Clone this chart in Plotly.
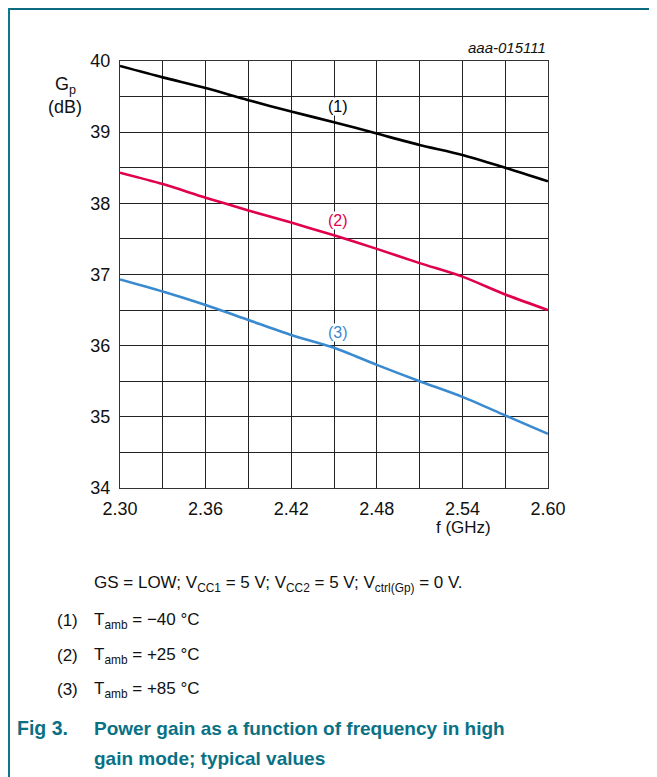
import plotly.graph_objects as go

freq = [2.30, 2.33, 2.36, 2.39, 2.42, 2.45, 2.48, 2.51, 2.54, 2.57, 2.60]
gp_m40 = [39.93, 39.77, 39.62, 39.45, 39.29, 39.14, 38.98, 38.82, 38.68, 38.50, 38.31]
gp_p25 = [38.43, 38.27, 38.08, 37.90, 37.73, 37.55, 37.36, 37.16, 36.97, 36.72, 36.50]
gp_p85 = [36.93, 36.76, 36.57, 36.36, 36.15, 35.97, 35.73, 35.50, 35.28, 35.02, 34.76]

series_names = ["(1)", "(2)", "(3)"]
series_colors = ["#000000", "#e0004d", "#3a8ad0"]
label_x = [2.4525, 2.4525, 2.4525]
label_y = [39.36, 37.76, 36.18]

x_ticks = [2.30, 2.36, 2.42, 2.48, 2.54, 2.60]
x_ticktext = ["2.30", "2.36", "2.42", "2.48", "2.54", "2.60"]
y_ticks = [34, 35, 36, 37, 38, 39, 40]

FONT = "Liberation Sans, Arial, sans-serif"
TEAL = "#0a7185"

# page pixel geometry of the plot area (page has an 8px body margin)
PX0, PX1, PY0, PY1 = 120, 548, 61, 488
OFF = 8
W, H = 657 - OFF, 777 - OFF

fig = go.Figure()
for ys, name, col in zip([gp_m40, gp_p25, gp_p85], series_names, series_colors):
    fig.add_trace(go.Scatter(x=freq, y=ys, mode="lines", name=name,
                             line=dict(color=col, width=2.6, shape="spline", smoothing=0.8),
                             showlegend=False))

for name, col, lx, ly in zip(series_names, series_colors, label_x, label_y):
    fig.add_annotation(x=lx, y=ly, text=name, showarrow=False, xref="x", yref="y",
                       font=dict(family=FONT, size=16, color=col), bgcolor="white", borderpad=0)

axis_common = dict(showline=True, linecolor="#333333", linewidth=1.3, mirror=True,
                   showgrid=True, gridcolor="#222222", gridwidth=1.3, zeroline=False,
                   ticks="", tickfont=dict(family=FONT, size=18, color="#111111"))

fig.update_xaxes(range=[2.30, 2.60], tickvals=x_ticks, ticktext=x_ticktext,
                 ticklabelstandoff=4,
                 minor=dict(dtick=0.03, tick0=2.30, showgrid=True, gridcolor="#222222", gridwidth=1.3),
                 **axis_common)
fig.update_yaxes(range=[34, 40], tickvals=y_ticks, ticklabelstandoff=5,
                 minor=dict(dtick=0.5, tick0=34, showgrid=True, gridcolor="#222222", gridwidth=1.3),
                 **axis_common)

fig.update_layout(width=W, height=H,
                  margin=dict(l=PX0 - OFF, r=W - (PX1 - OFF), t=PY0 - OFF, b=H - (PY1 - OFF)),
                  paper_bgcolor="white", plot_bgcolor="white",
                  font=dict(family=FONT, color="#111111"))


def px(x):
    return (x - PX0) / (PX1 - PX0)


def py(y):
    return (PY1 - y) / (PY1 - PY0)


def txt(x, y, text, size=17, color="#111111", xanchor="left", bold=False, italic=False, family=FONT):
    t = text
    if bold:
        t = "<b>" + t + "</b>"
    if italic:
        t = "<i>" + t + "</i>"
    return dict(x=px(x), y=py(y), xref="paper", yref="paper", text=t, showarrow=False,
                xanchor=xanchor, yanchor="middle", font=dict(family=family, size=size, color=color))


fig.add_annotation(**txt(65, 86, "G<sub>p</sub>", size=18, xanchor="center"))
fig.add_annotation(**txt(65, 107, "(dB)", size=18, xanchor="center"))
fig.add_annotation(**txt(548, 48, "aaa-015111", size=15, xanchor="right", italic=True))
fig.add_annotation(**txt(463, 527, "f (GHz)", size=17, xanchor="center"))

fig.add_annotation(**txt(92, 584, "GS = LOW; V<sub>CC1</sub> = 5 V; V<sub>CC2</sub> = 5 V; V<sub>ctrl(Gp)</sub> = 0 V.", size=17))
fig.add_annotation(**txt(55, 620, "(1)", size=17))
fig.add_annotation(**txt(92, 621, "T<sub>amb</sub> = \u221240 \u00b0C", size=17))
fig.add_annotation(**txt(55, 655, "(2)", size=17))
fig.add_annotation(**txt(92, 656, "T<sub>amb</sub> = +25 \u00b0C", size=17))
fig.add_annotation(**txt(55, 689, "(3)", size=17))
fig.add_annotation(**txt(92, 690, "T<sub>amb</sub> = +85 \u00b0C", size=17))

CAP = "Liberation Sans, Arial, sans-serif"
fig.add_annotation(**txt(15, 728, "Fig 3.", size=19.5, color=TEAL, bold=True, family=CAP))
fig.add_annotation(**txt(92, 728, "Power gain as a function of frequency in high", size=19, color=TEAL, bold=True, family=CAP))
fig.add_annotation(**txt(92, 758, "gain mode; typical values", size=19, color=TEAL, bold=True, family=CAP))

# frame lines (teal border at top and left)
fig.add_shape(type="line", xref="paper", yref="paper", x0=px(OFF), x1=px(657),
              y0=py(OFF + 1), y1=py(OFF + 1), line=dict(color="#0b6a80", width=2))
fig.add_shape(type="line", xref="paper", yref="paper", x0=px(OFF + 1), x1=px(OFF + 1),
              y0=py(OFF), y1=py(777), line=dict(color="#0a7a8a", width=2))

fig.write_html("out.html")
